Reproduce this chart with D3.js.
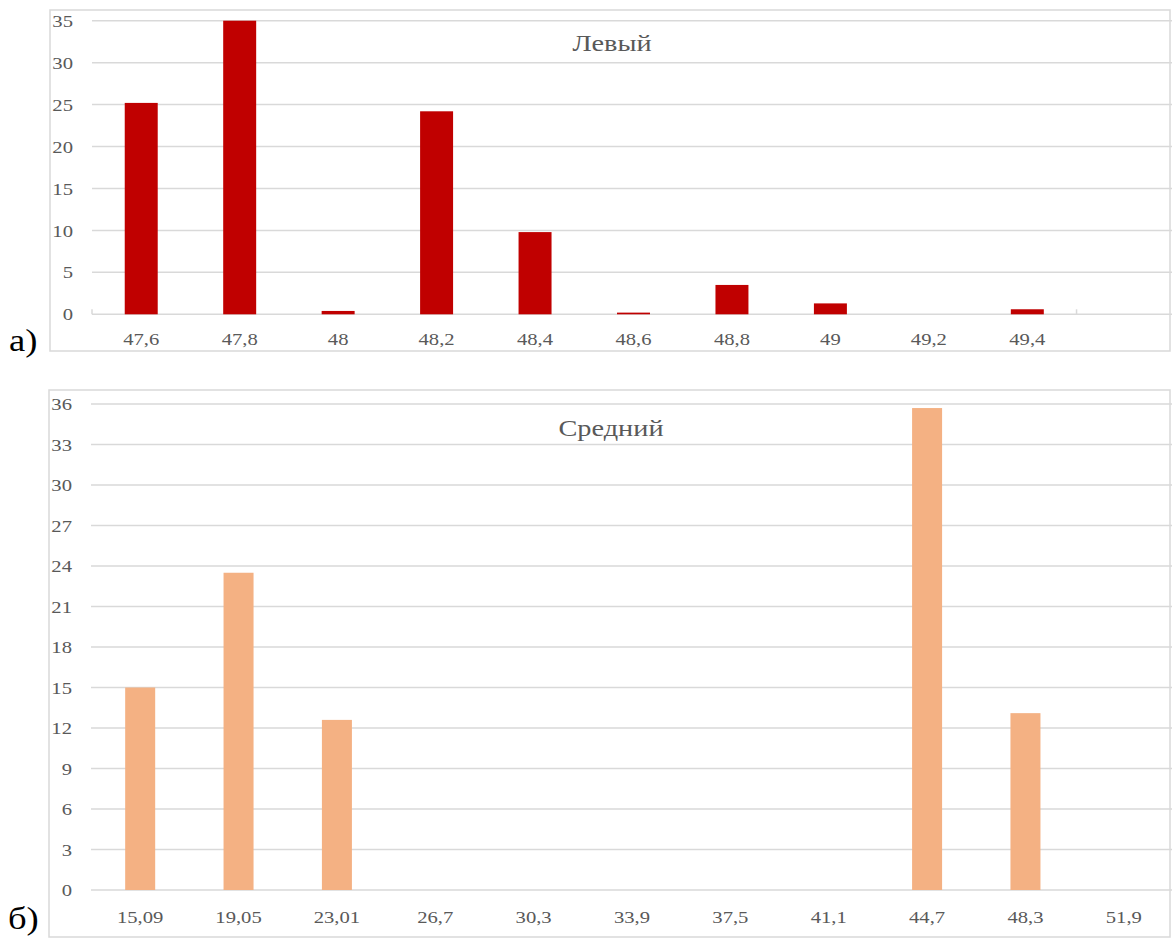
<!DOCTYPE html>
<html>
<head>
<meta charset="utf-8">
<script src="https://cdn.jsdelivr.net/npm/d3@7"></script>
<style>
  html, body { margin: 0; padding: 0; background: #fff; }
  svg { display: block; }
  text { font-family: "Liberation Serif", "Times New Roman", serif; }
</style>
</head>
<body>
<svg id="chart" width="1172" height="945"></svg>
<script>
// Panel а) — "Левый"
const leftCategories = ["47,6", "47,8", "48", "48,2", "48,4", "48,6", "48,8", "49", "49,2", "49,4", ""];
const leftValues = [25.2, 35, 0.4, 24.2, 9.8, 0.2, 3.5, 1.3, 0, 0.6, 0];
const leftTicks = [0, 5, 10, 15, 20, 25, 30, 35];

// Panel б) — "Средний"
const midCategories = ["15,09", "19,05", "23,01", "26,7", "30,3", "33,9", "37,5", "41,1", "44,7", "48,3", "51,9"];
const midValues = [15, 23.5, 12.6, 0, 0, 0, 0, 0, 35.7, 13.1, 0];
const midTicks = [0, 3, 6, 9, 12, 15, 18, 21, 24, 27, 30, 33, 36];

const svg = d3.select("#chart");
const W = 1172;
const STRETCH = 1.18;          // horizontal text stretch
const GRID = "#d9d9d9";
const LABEL = "#595959";
const SERIF = '"Liberation Serif", "Times New Roman", serif';

function panel(cfg) {
  const g = svg.append("g");

  // outer frame
  g.append("rect")
    .attr("x", cfg.frame[0]).attr("y", cfg.frame[1])
    .attr("width", cfg.frame[2]).attr("height", cfg.frame[3])
    .attr("fill", "#fff").attr("stroke", GRID).attr("stroke-width", 1.5);

  const x = d3.scaleBand()
    .domain(cfg.categories)
    .range(cfg.xRange)
    .paddingInner(cfg.pad)
    .paddingOuter(cfg.pad / 2);

  const y = d3.scaleLinear()
    .domain([0, d3.max(cfg.ticks)])
    .range(cfg.yRange);

  // horizontal gridlines
  g.append("g")
    .selectAll("line")
    .data(cfg.ticks)
    .join("line")
    .attr("x1", cfg.xRange[0]).attr("x2", W)
    .attr("y1", d => y(d)).attr("y2", d => y(d))
    .attr("stroke", GRID).attr("stroke-width", 1.5);

  // value axis
  const yAxis = g.append("g")
    .attr("transform", `translate(${cfg.xRange[0]},0)`)
    .call(d3.axisLeft(y).tickValues(cfg.ticks).tickSize(0).tickPadding(0));
  yAxis.attr("font-family", SERIF);
  yAxis.select(".domain").remove();
  yAxis.selectAll("text")
    .attr("x", 0).attr("dy", "0.32em")
    .attr("transform", `translate(-19,0) scale(${STRETCH},1)`)
    .attr("text-anchor", "end")
    .attr("fill", LABEL)
    .style("font-size", "17.5px")
    .style("font-family", SERIF);

  // category axis
  const xAxis = g.append("g")
    .attr("transform", `translate(0,${cfg.yRange[0]})`)
    .call(d3.axisBottom(x).tickSize(0).tickPadding(0));
  xAxis.attr("font-family", SERIF);
  xAxis.select(".domain").remove();
  xAxis.selectAll("text")
    .attr("y", 0).attr("dy", 0)
    .attr("transform", `translate(0,${cfg.labelOffset}) scale(${STRETCH},1)`)
    .attr("text-anchor", "middle")
    .attr("fill", LABEL)
    .style("font-size", "17.5px")
    .style("font-family", SERIF);

  // small tick marks on the category axis
  if (cfg.edgeTicks) {
    g.append("g")
      .selectAll("line")
      .data(cfg.edgeTicks)
      .join("line")
      .attr("x1", i => x(cfg.categories[i]) - x.step() * x.paddingInner() / 2)
      .attr("x2", i => x(cfg.categories[i]) - x.step() * x.paddingInner() / 2)
      .attr("y1", cfg.yRange[0] - 5).attr("y2", cfg.yRange[0])
      .attr("stroke", GRID).attr("stroke-width", 1.5);
  }

  // bars
  const rows = cfg.categories.map((c, i) => ({ c, v: cfg.values[i] }));
  g.append("g")
    .selectAll("rect")
    .data(rows.filter(d => d.v > 0))
    .join("rect")
    .attr("x", d => x(d.c))
    .attr("width", x.bandwidth())
    .attr("y", d => y(d.v))
    .attr("height", d => y(0) - y(d.v))
    .attr("fill", cfg.color);

  // series title
  g.append("text")
    .attr("transform", `translate(${cfg.title[1]},${cfg.title[2]}) scale(${STRETCH},1)`)
    .attr("text-anchor", "middle")
    .attr("fill", LABEL)
    .style("font-size", "24px")
    .text(cfg.title[0]);

  // panel letter
  svg.append("text")
    .attr("transform", `translate(${cfg.letter[1]},${cfg.letter[2]}) scale(${STRETCH},1)`)
    .attr("fill", "#000")
    .style("font-size", "31px")
    .text(cfg.letter[0]);
}

panel({
  categories: leftCategories,
  values: leftValues,
  ticks: leftTicks,
  frame: [50, 10, 1120, 341],
  xRange: [92, 1175],
  yRange: [314.3, 20.7],
  pad: 0.665,
  labelOffset: 31,
  edgeTicks: [0, 10],
  color: "#c00000",
  title: ["Левый", 612, 51],
  letter: ["а)", 9, 351]
});

panel({
  categories: midCategories,
  values: midValues,
  ticks: midTicks,
  frame: [49, 390, 1121, 547],
  xRange: [91, 1173],
  yRange: [890, 404],
  pad: 0.695,
  labelOffset: 33,
  edgeTicks: null,
  color: "#f4b183",
  title: ["Средний", 611, 436],
  letter: ["б)", 8, 929]
});
</script>
</body>
</html>
